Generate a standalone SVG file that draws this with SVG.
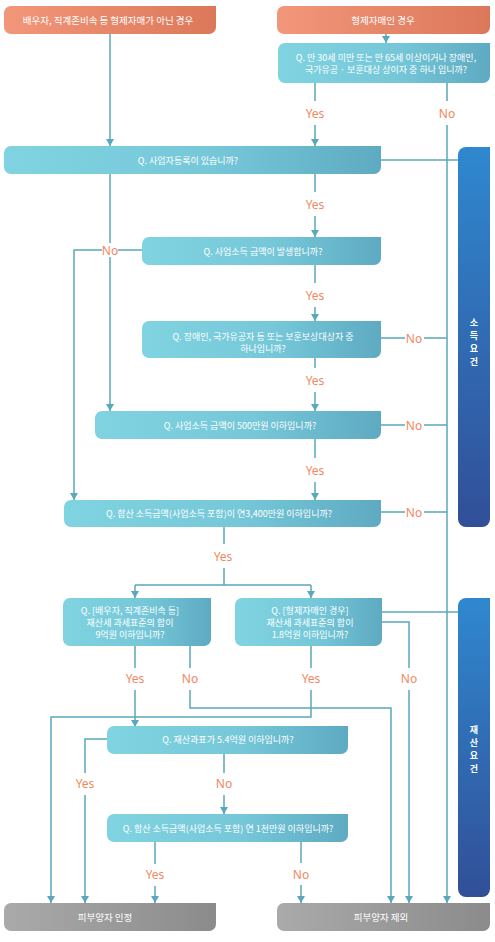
<svg xmlns="http://www.w3.org/2000/svg" width="495" height="942" viewBox="0 0 495 942">
<style>
.q{fill:url(#gq)}
.h{fill:url(#go)}
.e{fill:url(#gg)}
.p{fill:url(#gb)}
.t{font-family:"Noto Sans CJK KR","Noto Sans",sans-serif;font-size:9px;fill:#fff;text-anchor:middle;dominant-baseline:central}
.ht{font-family:"Noto Sans CJK KR","Noto Sans",sans-serif;font-size:9.5px;fill:#fff;text-anchor:middle;dominant-baseline:central}
.pt{font-family:"Noto Sans CJK KR",sans-serif;font-size:9px;fill:#fff;text-anchor:middle;dominant-baseline:central;font-weight:bold}
.c{fill:none;stroke:#5aa8bc;stroke-width:1.5}
.a{marker-end:url(#ar)}
.l{font-family:"Noto Sans","Liberation Sans",sans-serif;font-size:12px;fill:#f08862;text-anchor:middle;dominant-baseline:central}
</style>
<defs>
<linearGradient id="gq" x1="0" y1="0" x2="1" y2="0"><stop offset="0" stop-color="#80d3e0"/><stop offset="0.55" stop-color="#76c8d9"/><stop offset="1" stop-color="#5eaac2"/></linearGradient>
<linearGradient id="go" x1="0" y1="0" x2="1" y2="0"><stop offset="0" stop-color="#f2967a"/><stop offset="1" stop-color="#dc785a"/></linearGradient>
<linearGradient id="gg" x1="0" y1="0" x2="1" y2="0"><stop offset="0" stop-color="#aaaaaa"/><stop offset="1" stop-color="#8b8b8b"/></linearGradient>
<linearGradient id="gb" x1="0" y1="0" x2="0" y2="1"><stop offset="0" stop-color="#2f88cf"/><stop offset="1" stop-color="#314f98"/></linearGradient>
<marker id="ar" markerUnits="userSpaceOnUse" markerWidth="8" markerHeight="7" viewBox="0 0 8 7" refX="4" refY="7" orient="0"><path d="M0 0H8L4 7Z" fill="#5aa8bc"/></marker>
</defs>

<g id="connectors">
<path class="c a" d="M110 34V146"/>
<path class="c a" d="M386 34V43"/>
<path class="c a" d="M315 83V101M315 125V146"/>
<path class="c a" d="M447 83V101M447 125V903"/>
<path class="c" d="M381 160H458"/>
<path class="c a" d="M110 174V243M110 257V411"/>
<path class="c a" d="M315 174V192M315 216V237"/>
<path class="c a" d="M142 250H118M102 250H74V500"/>
<path class="c a" d="M315 265V283M315 307V321"/>
<path class="c" d="M381 338H405M424 338H447"/>
<path class="c a" d="M315 358V368M315 392V411"/>
<path class="c" d="M381 425H405M424 425H447"/>
<path class="c a" d="M315 439V458M315 482V500"/>
<path class="c" d="M381 512H405M424 512H447"/>
<path class="c" d="M224 527V544M224 568V585M135 585H311"/>
<path class="c a" d="M135 585V598"/>
<path class="c a" d="M311 585V598"/>
<path class="c" d="M382 612H458"/>
<path class="c a" d="M382 622H409V668M409 690V903"/>
<path class="c a" d="M135 646V668M135 690V727"/>
<path class="c a" d="M190 646V668M190 690V708H391V903"/>
<path class="c a" d="M311 646V668M311 690V717H51V903"/>
<path class="c a" d="M107 739H85V773M85 795V903"/>
<path class="c a" d="M224 754V773M224 795V814"/>
<path class="c a" d="M155 842V864M155 886V903"/>
<path class="c a" d="M301 842V863M301 885V903"/>
<text class="l" x="315" y="113">Yes</text>
<text class="l" x="447" y="113">No</text>
<text class="l" x="315" y="204">Yes</text>
<text class="l" x="110" y="250">No</text>
<text class="l" x="315" y="295">Yes</text>
<text class="l" x="414" y="338">No</text>
<text class="l" x="315" y="380">Yes</text>
<text class="l" x="414" y="425">No</text>
<text class="l" x="315" y="470">Yes</text>
<text class="l" x="414" y="512">No</text>
<text class="l" x="223" y="556">Yes</text>
<text class="l" x="135" y="678">Yes</text>
<text class="l" x="190" y="678">No</text>
<text class="l" x="311" y="678">Yes</text>
<text class="l" x="409" y="678">No</text>
<text class="l" x="85" y="783">Yes</text>
<text class="l" x="224" y="783">No</text>
<text class="l" x="155" y="874">Yes</text>
<text class="l" x="301" y="874">No</text>
</g>

<g id="start-left"><path class="h" d="M11 6H216V27A7 7 0 0 1 209 34H11A7 7 0 0 1 4 27V13A7 7 0 0 1 11 6Z"/><text class="ht" x="108" y="20">배우자, 직계존비속 등 형제자매가 아닌 경우</text></g>
<g id="start-right"><path class="h" d="M284 6H490V27A7 7 0 0 1 483 34H284A7 7 0 0 1 277 27V13A7 7 0 0 1 284 6Z"/><text class="ht" x="383" y="20">형제자매인 경우</text></g>
<g id="q1"><path class="q" d="M285 43H490V76A7 7 0 0 1 483 83H285A7 7 0 0 1 278 76V50A7 7 0 0 1 285 43Z"/><text class="t" x="386" y="57">Q. 만 30세 미만 또는 만 65세 이상이거나 장애인,</text><text class="t" x="386" y="69">국가유공 · 보훈대상 상이자 중 하나 입니까?</text></g>
<g id="q2"><path class="q" d="M11 146H381V167A7 7 0 0 1 374 174H11A7 7 0 0 1 4 167V153A7 7 0 0 1 11 146Z"/><text class="t" x="188" y="160">Q. 사업자등록이 있습니까?</text></g>
<g id="q3"><path class="q" d="M149 237H381V258A7 7 0 0 1 374 265H149A7 7 0 0 1 142 258V244A7 7 0 0 1 149 237Z"/><text class="t" x="263" y="251">Q. 사업소득 금액이 발생합니까?</text></g>
<g id="q4"><path class="q" d="M149 321H381V351A7 7 0 0 1 374 358H149A7 7 0 0 1 142 351V328A7 7 0 0 1 149 321Z"/><text class="t" x="263" y="336">Q. 장애인, 국가유공자 등 또는 보훈보상대상자 중</text><text class="t" x="263" y="348">하나입니까?</text></g>
<g id="q5"><path class="q" d="M102 411H381V432A7 7 0 0 1 374 439H102A7 7 0 0 1 95 432V418A7 7 0 0 1 102 411Z"/><text class="t" x="240" y="425">Q. 사업소득 금액이 500만원 이하입니까?</text></g>
<g id="q6"><path class="q" d="M71 500H381V520A7 7 0 0 1 374 527H71A7 7 0 0 1 64 520V507A7 7 0 0 1 71 500Z"/><text class="t" x="219" y="513">Q. 합산 소득금액(사업소득 포함)이 연3,400만원 이하입니까?</text></g>
<g id="q7"><path class="q" d="M70 598H211V639A7 7 0 0 1 204 646H70A7 7 0 0 1 63 639V605A7 7 0 0 1 70 598Z"/><text class="t" x="130" y="610">Q. [배우자, 직계존비속 등]</text><text class="t" x="130" y="622">재산세 과세표준의 합이</text><text class="t" x="130" y="634">9억원 이하입니까?</text></g>
<g id="q8"><path class="q" d="M242 598H382V639A7 7 0 0 1 375 646H242A7 7 0 0 1 235 639V605A7 7 0 0 1 242 598Z"/><text class="t" x="310" y="610">Q. [형제자매인 경우]</text><text class="t" x="310" y="622">재산세 과세표준의 합이</text><text class="t" x="310" y="634">1.8억원 이하입니까?</text></g>
<g id="q9"><path class="q" d="M114 726H348V747A7 7 0 0 1 341 754H114A7 7 0 0 1 107 747V733A7 7 0 0 1 114 726Z"/><text class="t" x="228" y="739">Q. 재산과표가 5.4억원 이하입니까?</text></g>
<g id="q10"><path class="q" d="M114 814H348V835A7 7 0 0 1 341 842H114A7 7 0 0 1 107 835V821A7 7 0 0 1 114 814Z"/><text class="t" x="228" y="828">Q. 합산 소득금액(사업소득 포함) 연 1천만원 이하입니까?</text></g>
<g id="end-yes"><path class="e" d="M11 903H216V924A7 7 0 0 1 209 931H11A7 7 0 0 1 4 924V910A7 7 0 0 1 11 903Z"/><text class="ht" x="105" y="917">피부양자 인정</text></g>
<g id="end-no"><path class="e" d="M284 903H490V924A7 7 0 0 1 483 931H284A7 7 0 0 1 277 924V910A7 7 0 0 1 284 903Z"/><text class="ht" x="381" y="917">피부양자 제외</text></g>
<g id="panel-income"><path class="p" d="M466 147H490V519A8 8 0 0 1 482 527H466A8 8 0 0 1 458 519V155A8 8 0 0 1 466 147Z"/><text class="pt" x="474" y="322">소</text><text class="pt" x="474" y="335">득</text><text class="pt" x="474" y="348">요</text><text class="pt" x="474" y="361">건</text></g>
<g id="panel-asset"><path class="p" d="M466 598H490V889A8 8 0 0 1 482 897H466A8 8 0 0 1 458 889V606A8 8 0 0 1 466 598Z"/><text class="pt" x="474" y="729">재</text><text class="pt" x="474" y="742">산</text><text class="pt" x="474" y="755">요</text><text class="pt" x="474" y="768">건</text></g>
</svg>
